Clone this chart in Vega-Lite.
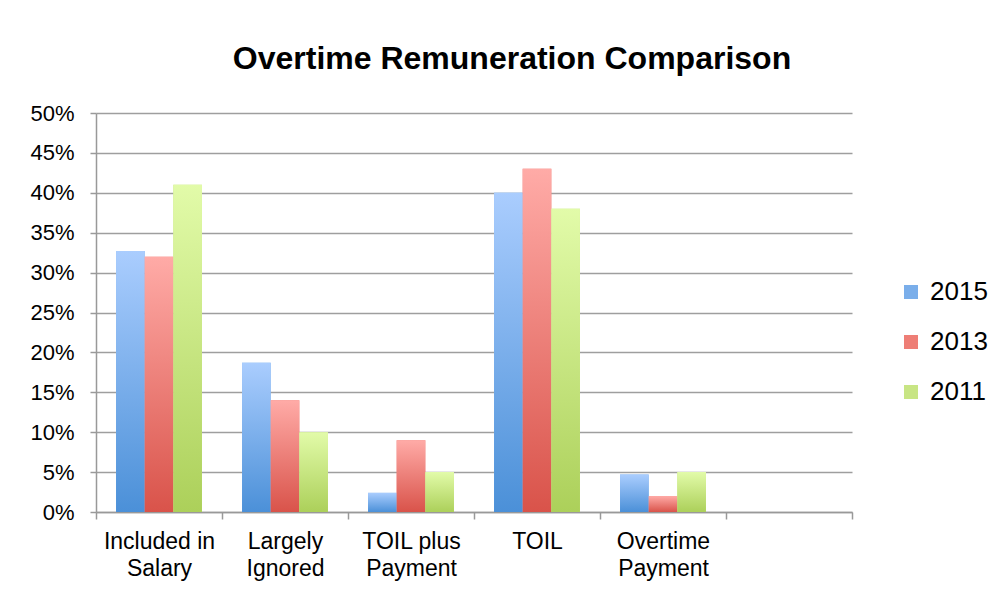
{
  "$schema": "https://vega.github.io/schema/vega-lite/v6.json",
  "width": 756,
  "height": 399,
  "autosize": {"type": "none"},
  "padding": {"left": 96, "top": 113, "right": 154, "bottom": 83},
  "background": "white",
  "title": {"text": "Overtime Remuneration Comparison", "font": "Liberation Sans", "fontSize": 32, "fontWeight": "bold", "color": "black", "anchor": "middle", "dx": 38, "offset": 26},
  "config": {"view": {"stroke": null}, "font": "Liberation Sans"},
  "data": {"values": [
    {"category": "Included in Salary", "year": "2015", "value": 0.327},
    {"category": "Included in Salary", "year": "2013", "value": 0.32},
    {"category": "Included in Salary", "year": "2011", "value": 0.41},
    {"category": "Largely Ignored", "year": "2015", "value": 0.187},
    {"category": "Largely Ignored", "year": "2013", "value": 0.14},
    {"category": "Largely Ignored", "year": "2011", "value": 0.10},
    {"category": "TOIL plus Payment", "year": "2015", "value": 0.024},
    {"category": "TOIL plus Payment", "year": "2013", "value": 0.09},
    {"category": "TOIL plus Payment", "year": "2011", "value": 0.05},
    {"category": "TOIL", "year": "2015", "value": 0.40},
    {"category": "TOIL", "year": "2013", "value": 0.43},
    {"category": "TOIL", "year": "2011", "value": 0.38},
    {"category": "Overtime Payment", "year": "2015", "value": 0.047},
    {"category": "Overtime Payment", "year": "2013", "value": 0.02},
    {"category": "Overtime Payment", "year": "2011", "value": 0.05}
  ]},
  "encoding": {
    "x": {
      "field": "category", "type": "nominal",
      "scale": {"domain": ["Included in Salary", "Largely Ignored", "TOIL plus Payment", "TOIL", "Overtime Payment", "none"], "paddingInner": 0, "paddingOuter": 0},
      "axis": {
        "title": null, "labelAngle": 0, "labelFontSize": 23, "labelColor": "black", "labelLineHeight": 27, "labelPadding": 11,
        "labelExpr": "datum.value == 'Included in Salary' ? ['Included in', 'Salary'] : datum.value == 'Largely Ignored' ? ['Largely', 'Ignored'] : datum.value == 'TOIL plus Payment' ? ['TOIL plus', 'Payment'] : datum.value == 'Overtime Payment' ? ['Overtime', 'Payment'] : datum.value == 'none' ? '' : datum.value",
        "tickBand": "extent", "tickSize": 7, "tickColor": "#999999", "tickWidth": 1.5, "domainColor": "#999999", "domainWidth": 1.5
      }
    },
    "xOffset": {"field": "year", "type": "nominal", "sort": ["2015", "2013", "2011"], "scale": {"paddingInner": 0, "paddingOuter": 0.7}},
    "y": {
      "field": "value", "type": "quantitative",
      "scale": {"domain": [0, 0.5]},
      "axis": {
        "title": null, "values": [0, 0.05, 0.1, 0.15, 0.2, 0.25, 0.3, 0.35, 0.4, 0.45, 0.5], "format": ".0%",
        "labelFontSize": 22, "labelColor": "black", "labelPadding": 16, "tickSize": 6, "tickColor": "#999999", "tickWidth": 1.5,
        "domainColor": "#999999", "domainWidth": 1.5, "gridColor": "#9e9e9e", "gridWidth": 1.5
      }
    }
  },
  "layer": [
    {
      "mark": {"type": "bar"},
      "encoding": {
        "color": {
          "field": "year", "type": "nominal",
          "scale": {"domain": ["2015", "2013", "2011"], "range": ["#7aaeea", "#ee7e76", "#c8e584"]},
          "legend": {"orient": "none", "legendX": 802, "legendY": 166, "title": null, "labelFontSize": 26, "labelColor": "black", "symbolType": "square", "symbolSize": 196, "symbolStrokeWidth": 0, "symbolOpacity": 1, "rowPadding": 24, "labelOffset": 6}
        }
      }
    },
    {
      "transform": [{"filter": "datum.year == '2015'"}],
      "mark": {"type": "bar", "color": {"gradient": "linear", "x1": 0, "y1": 0, "x2": 0, "y2": 1, "stops": [{"offset": 0, "color": "#aacdfe"}, {"offset": 1, "color": "#4b90d8"}]}}
    },
    {
      "transform": [{"filter": "datum.year == '2013'"}],
      "mark": {"type": "bar", "color": {"gradient": "linear", "x1": 0, "y1": 0, "x2": 0, "y2": 1, "stops": [{"offset": 0, "color": "#ffaba7"}, {"offset": 1, "color": "#d9534a"}]}}
    },
    {
      "transform": [{"filter": "datum.year == '2011'"}],
      "mark": {"type": "bar", "color": {"gradient": "linear", "x1": 0, "y1": 0, "x2": 0, "y2": 1, "stops": [{"offset": 0, "color": "#e2fba9"}, {"offset": 1, "color": "#acd05a"}]}}
    }
  ]
}
